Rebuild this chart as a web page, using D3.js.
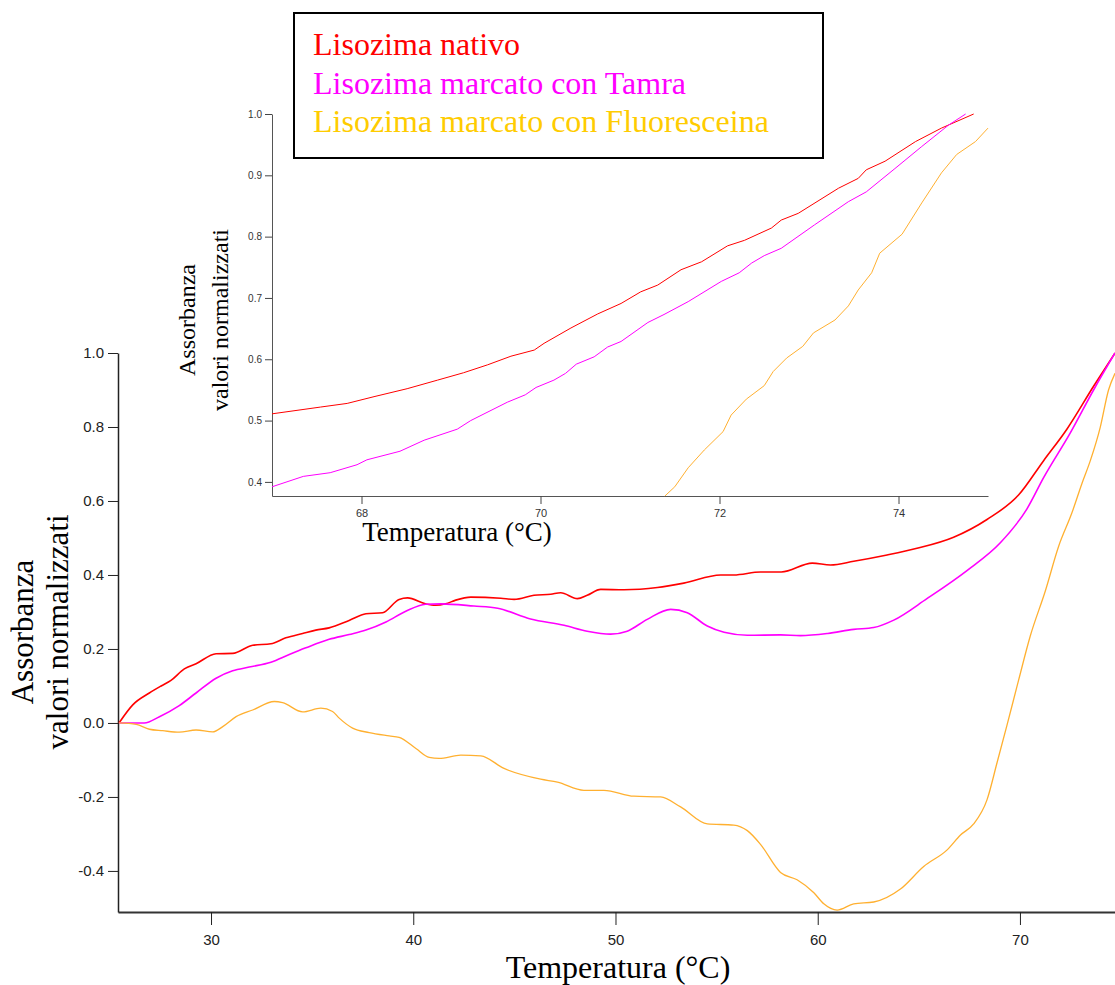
<!DOCTYPE html>
<html>
<head>
<meta charset="utf-8">
<script src="https://d3js.org/d3.v7.min.js"></script>
<style>
  body { margin: 0; background: #fff; }
  svg { display: block; }
</style>
</head>
<body>
<div id="chart"></div>
<script>
// series labels + colours
const seriesNames = ['Lisozima nativo', 'Lisozima marcato con Tamra', 'Lisozima marcato con Fluoresceina'];
const lineColors = ['#ff0000', '#ff00ff', '#ffb030'];
const legendColors = ['#ff0000', '#ff00ff', '#ffcc00'];

// main plot: [temperature, normalized absorbance]
const nativoMain = [[25.45,0],[26.13,0.049],[26.95,0.081],[27.53,0.10],[28.02,0.115],[28.68,0.146],[29.26,0.16],[30.25,0.187],[31.07,0.188],[32.06,0.21],[32.96,0.214],[33.7,0.23],[34.53,0.242],[35.18,0.251],[35.84,0.257],[36.83,0.277],[37.66,0.295],[38.48,0.298],[39.3,0.334],[39.72,0.338],[40.6,0.322],[41.1,0.318],[41.6,0.322],[42.1,0.332],[42.85,0.34],[44.33,0.337],[44.99,0.334],[45.97,0.345],[46.8,0.348],[47.29,0.352],[48.12,0.336],[48.6,0.345],[49.27,0.361],[50.42,0.36],[52.07,0.366],[53.38,0.378],[55.2,0.40],[55.85,0.40],[57.17,0.408],[58.2,0.408],[59.73,0.432],[60.63,0.427],[61.78,0.437],[63.43,0.454],[64.91,0.472],[66.72,0.502],[68.37,0.55],[69.93,0.616],[71.17,0.709],[72.32,0.794],[73.64,0.91],[74.7,1.0]];
const tamraMain = [[25.45,0],[26.7,0.0],[27.45,0.017],[28.43,0.047],[29.26,0.081],[30.25,0.121],[31.07,0.141],[31.89,0.151],[32.96,0.164],[33.87,0.185],[34.69,0.203],[35.84,0.226],[36.83,0.239],[37.66,0.251],[38.65,0.273],[39.63,0.302],[40.61,0.321],[41.36,0.322],[43.0,0.316],[44.17,0.31],[45.8,0.281],[47.46,0.264],[48.6,0.248],[49.76,0.24],[50.58,0.248],[51.57,0.28],[52.73,0.307],[53.55,0.298],[54.54,0.262],[55.37,0.245],[56.52,0.237],[58.16,0.238],[59.15,0.236],[60.5,0.242],[61.78,0.253],[62.77,0.258],[63.76,0.278],[65.4,0.336],[67.38,0.412],[69.03,0.487],[70.34,0.578],[71.17,0.663],[72.49,0.784],[73.64,0.9],[74.7,1.0]];
const fluoMain = [[25.45,0],[26.3,-0.004],[26.95,-0.017],[27.61,-0.021],[28.43,-0.025],[29.26,-0.019],[30.08,-0.024],[30.58,-0.01],[31.24,0.017],[32.06,0.035],[33.13,0.058],[33.54,0.055],[34.53,0.03],[35.43,0.04],[36.01,0.031],[36.34,0.013],[37.0,-0.014],[37.82,-0.026],[38.81,-0.035],[39.3,-0.039],[40.13,-0.069],[40.79,-0.093],[41.28,-0.096],[42.35,-0.087],[43.34,-0.089],[44.49,-0.123],[46.3,-0.152],[47.13,-0.16],[48.44,-0.182],[49.43,-0.182],[50.91,-0.198],[52.23,-0.2],[53.22,-0.227],[54.54,-0.273],[55.85,-0.276],[56.52,-0.291],[57.17,-0.328],[58.16,-0.404],[58.98,-0.424],[59.81,-0.459],[60.3,-0.489],[60.96,-0.506],[61.78,-0.489],[62.77,-0.484],[64.09,-0.449],[65.24,-0.388],[66.4,-0.343],[67.06,-0.303],[67.71,-0.273],[68.37,-0.208],[68.87,-0.107],[69.36,-0.006],[69.93,0.115],[70.51,0.235],[71.25,0.356],[71.91,0.477],[72.57,0.568],[73.07,0.648],[73.48,0.709],[73.97,0.799],[74.38,0.9],[74.7,0.945]];

// inset (zoom on 67-75 °C)
const nativoInset = [[67.0,0.511],[67.54,0.522],[67.84,0.528],[68.14,0.539],[68.51,0.552],[68.85,0.566],[69.14,0.578],[69.41,0.591],[69.67,0.605],[69.93,0.615],[70.04,0.626],[70.34,0.651],[70.64,0.674],[70.9,0.691],[71.12,0.71],[71.31,0.721],[71.57,0.746],[71.8,0.759],[72.09,0.785],[72.28,0.794],[72.58,0.814],[72.69,0.827],[72.88,0.838],[73.33,0.879],[73.55,0.895],[73.64,0.909],[73.85,0.923],[74.19,0.955],[74.48,0.977],[74.84,1.0]];
const tamraInset = [[67.0,0.392],[67.35,0.409],[67.65,0.415],[67.95,0.428],[68.06,0.436],[68.43,0.45],[68.7,0.468],[69.07,0.486],[69.22,0.5],[69.63,0.53],[69.83,0.542],[69.95,0.554],[70.15,0.566],[70.28,0.577],[70.4,0.592],[70.6,0.604],[70.75,0.62],[70.9,0.629],[71.2,0.66],[71.38,0.673],[71.65,0.694],[72.02,0.727],[72.22,0.741],[72.36,0.757],[72.5,0.769],[72.69,0.781],[73.06,0.819],[73.44,0.857],[73.64,0.873],[73.96,0.911],[74.26,0.947],[74.56,0.982],[74.75,1.0]];
const fluoInset = [[71.39,0.377],[71.5,0.392],[71.65,0.423],[71.83,0.452],[72.04,0.482],[72.13,0.509],[72.3,0.535],[72.5,0.557],[72.6,0.58],[72.75,0.602],[72.93,0.621],[73.05,0.643],[73.29,0.664],[73.44,0.687],[73.55,0.713],[73.7,0.741],[73.79,0.773],[74.04,0.804],[74.26,0.855],[74.48,0.904],[74.65,0.934],[74.86,0.955],[75.0,0.977]];

const mainXTicks = [30, 40, 50, 60, 70];
const mainYTicks = [-0.4, -0.2, 0.0, 0.2, 0.4, 0.6, 0.8, 1.0];
const insetXTicks = [68, 70, 72, 74];
const insetYTicks = [0.4, 0.5, 0.6, 0.7, 0.8, 0.9, 1.0];

const W = 1115, H = 985;
const svg = d3.select('#chart').append('svg').attr('width', W).attr('height', H);

const serif = '"Liberation Serif", "Times New Roman", serif';
const sans = '"Liberation Sans", Arial, sans-serif';
const narrow = '"Liberation Sans Narrow", "Arial Narrow", "Liberation Sans", sans-serif';
// plain hyphen for negatives, like the original
const fmt1 = d => d3.format('.1f')(d).replace('\u2212', '-');

//////// main plot
const x = d3.scaleLinear().domain([25.4, 74.7]).range([118, 1115]);
const y = d3.scaleLinear().domain([-0.511, 1.0]).range([912, 353]);

const gx = svg.append('g').attr('transform', 'translate(0,912)')
  .call(d3.axisBottom(x).tickValues(mainXTicks).tickSize(13).tickSizeOuter(0).tickFormat(d3.format('d')));
gx.select('.domain').attr('stroke', '#333').attr('stroke-width', 2);
gx.selectAll('.tick line').attr('stroke', '#222');
gx.selectAll('.tick text').attr('font-family', narrow).attr('font-size', 15).attr('fill', '#222').attr('dy', '1.15em');

const gy = svg.append('g').attr('transform', 'translate(118,0)')
  .call(d3.axisLeft(y).tickValues(mainYTicks).tickSize(10).tickSizeOuter(0).tickFormat(fmt1));
gy.select('.domain').attr('stroke', '#222').attr('stroke-width', 1.5);
gy.selectAll('.tick line').attr('stroke', '#222');
gy.selectAll('.tick text').attr('font-family', sans).attr('font-size', 15).attr('fill', '#222').attr('x', -14);

const line = d3.line().x(d => x(d[0])).y(d => y(d[1])).curve(d3.curveMonotoneX);
[nativoMain, tamraMain, fluoMain].forEach((s, i) => {
  svg.append('path').attr('d', line(s)).attr('fill', 'none')
    .attr('stroke', lineColors[i]).attr('stroke-width', i === 2 ? 1.3 : 1.6);
});

svg.append('text').attr('x', 618).attr('y', 978).attr('text-anchor', 'middle')
  .attr('font-family', serif).attr('font-size', 32).text('Temperatura (°C)');
const yt = svg.append('text').attr('transform', 'translate(0,632) rotate(-90)')
  .attr('text-anchor', 'middle').attr('font-family', serif).attr('font-size', 31);
yt.append('tspan').attr('x', 0).attr('y', 33).text('Assorbanza');
yt.append('tspan').attr('x', 0).attr('y', 68).text('valori normalizzati');

//////// inset
const xi = d3.scaleLinear().domain([67, 75]).range([272, 988]);
const yi = d3.scaleLinear().domain([0.377, 1.0]).range([496, 114]);

const gxi = svg.append('g').attr('transform', 'translate(0,496)')
  .call(d3.axisBottom(xi).tickValues(insetXTicks).tickSize(8).tickSizeOuter(0).tickFormat(d3.format('d')));
gxi.select('.domain').attr('stroke', '#555');
gxi.selectAll('.tick line').attr('stroke', '#444');
gxi.selectAll('.tick text').attr('font-family', narrow).attr('font-size', 11).attr('fill', '#333').attr('dy', '0.95em');

const gyi = svg.append('g').attr('transform', 'translate(272,0)')
  .call(d3.axisLeft(yi).tickValues(insetYTicks).tickSize(7).tickSizeOuter(0).tickFormat(fmt1));
gyi.select('.domain').attr('stroke', '#555');
gyi.selectAll('.tick line').attr('stroke', '#444');
gyi.selectAll('.tick text').attr('font-family', sans).attr('font-size', 10).attr('fill', '#333').attr('x', -10);

const lineI = d3.line().x(d => xi(d[0])).y(d => yi(d[1]));
[nativoInset, tamraInset, fluoInset].forEach((s, i) => {
  svg.append('path').attr('d', lineI(s)).attr('fill', 'none')
    .attr('stroke', lineColors[i]).attr('stroke-width', 1);
});

svg.append('text').attr('x', 457).attr('y', 541).attr('text-anchor', 'middle')
  .attr('font-family', serif).attr('font-size', 27).text('Temperatura (°C)');
const yti = svg.append('text').attr('transform', 'translate(0,320) rotate(-90)')
  .attr('text-anchor', 'middle').attr('font-family', serif).attr('font-size', 24);
yti.append('tspan').attr('x', 0).attr('y', 195).text('Assorbanza');
yti.append('tspan').attr('x', 0).attr('y', 228).text('valori normalizzati');

//////// legend
const lg = svg.append('g');
lg.append('rect').attr('x', 294).attr('y', 13).attr('width', 529).attr('height', 145)
  .attr('fill', '#fff').attr('stroke', '#000').attr('stroke-width', 2);
lg.selectAll('text').data(seriesNames).join('text')
  .attr('x', 313).attr('y', (d, i) => 55 + i * 38.5)
  .attr('font-family', serif).attr('font-size', 32)
  .attr('fill', (d, i) => legendColors[i]).text(d => d);
</script>
</body>
</html>
